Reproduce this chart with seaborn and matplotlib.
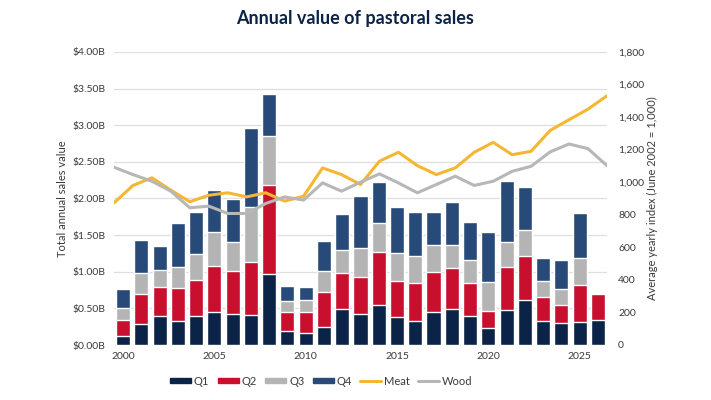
import pandas as pd
import seaborn as sns
import matplotlib.pyplot as plt
import matplotlib.ticker as ticker
from matplotlib.patches import Patch
from matplotlib.lines import Line2D

# --- data ($B per quarter, index values) ---
years = list(range(2000, 2027))
q1 = [0.12, 0.28, 0.39, 0.33, 0.40, 0.45, 0.42, 0.41, 0.97, 0.19, 0.17, 0.24, 0.49, 0.42,
      0.54, 0.38, 0.33, 0.45, 0.49, 0.40, 0.23, 0.48, 0.61, 0.33, 0.30, 0.32, 0.34]
q2 = [0.22, 0.41, 0.40, 0.45, 0.49, 0.63, 0.59, 0.72, 1.21, 0.26, 0.28, 0.49, 0.49, 0.51,
      0.73, 0.49, 0.52, 0.55, 0.56, 0.45, 0.24, 0.59, 0.60, 0.32, 0.25, 0.50, 0.36]
q3 = [0.17, 0.29, 0.23, 0.28, 0.35, 0.46, 0.40, 0.76, 0.68, 0.15, 0.16, 0.28, 0.32, 0.39,
      0.40, 0.39, 0.37, 0.36, 0.32, 0.31, 0.39, 0.33, 0.36, 0.22, 0.21, 0.37, 0.00]
q4 = [0.25, 0.45, 0.33, 0.60, 0.57, 0.58, 0.58, 1.07, 0.57, 0.20, 0.18, 0.41, 0.49, 0.72,
      0.55, 0.63, 0.59, 0.46, 0.58, 0.52, 0.68, 0.84, 0.59, 0.32, 0.40, 0.61, 0.00]
meat = [873, 980, 1027, 951, 880, 920, 935, 910, 935, 884, 914, 1088, 1047, 986, 1129,
        1184, 1102, 1047, 1088, 1184, 1245, 1169, 1190, 1318, 1384, 1449, 1531]
wood = [1092, 1047, 1006, 945, 843, 853, 808, 808, 869, 910, 890, 996, 945, 1000, 1051,
        996, 935, 986, 1037, 980, 1006, 1067, 1098, 1186, 1235, 1206, 1102]
tick_years = [2000, 2005, 2010, 2015, 2020, 2025]

C_Q1, C_Q2, C_Q3, C_Q4 = '#0b2346', '#c8102e', '#b4b4b4', '#284a78'
C_MEAT, C_WOOD = '#f5b731', '#b7b7b7'
TXT = '#3a3a3a'

df = pd.DataFrame({'Year': [str(y) for y in years], 'Q1': q1, 'Q2': q2, 'Q3': q3, 'Q4': q4})
df['c1'] = df['Q1']
df['c2'] = df['c1'] + df['Q2']
df['c3'] = df['c2'] + df['Q3']
df['c4'] = df['c3'] + df['Q4']
idx = pd.DataFrame({'Year': years, 'Meat': meat, 'Wood': wood})

sns.set_theme(style='white')
plt.rcParams['font.family'] = ['Lato', 'DejaVu Sans']

fig = plt.figure(figsize=(7.11, 4.0), dpi=100)
ax = fig.add_axes([0.1603, 0.1375, 0.6934, 0.7325])

# stacked bars: draw cumulative totals from the top layer down
for col, c in (('c4', C_Q4), ('c3', C_Q3), ('c2', C_Q2), ('c1', C_Q1)):
    sns.barplot(data=df, x='Year', y=col, color=c, width=0.77, saturation=1,
                ax=ax, zorder=2)

ax.set_ylim(0, 4.0)
ax.set_xlim(-0.5, len(years) - 0.5)
ax.yaxis.set_major_locator(ticker.MultipleLocator(0.5))
ax.yaxis.set_major_formatter(ticker.FuncFormatter(lambda v, p: f'${v:.2f}B'))
ax.set_xticks([years.index(y) for y in tick_years])
ax.set_xticklabels([str(y) for y in tick_years])
ax.grid(axis='y', color='#dedede', linewidth=0.9, zorder=0)
ax.set_axisbelow(True)
for s in ax.spines.values():
    s.set_visible(False)
ax.tick_params(axis='y', length=3, color='#dedede', labelsize=7.5, labelcolor=TXT, pad=3)
ax.tick_params(axis='x', length=0, labelsize=7.5, labelcolor=TXT, pad=5)
ax.set_xlabel('')
ax.set_ylabel('Total annual sales value', fontsize=8, color=TXT, labelpad=3)

# index lines on their own overlaid axes
ax2 = fig.add_axes(ax.get_position(), frameon=False)
sns.lineplot(data=idx, x='Year', y='Meat', color=C_MEAT, linewidth=2.2, ax=ax2)
sns.lineplot(data=idx, x='Year', y='Wood', color=C_WOOD, linewidth=2.2, ax=ax2)
ax2.set_xlim(years[0], years[-1])
ax2.set_ylim(0, 1800)
ax2.yaxis.set_major_locator(ticker.MultipleLocator(200))
ax2.yaxis.set_major_formatter(ticker.StrMethodFormatter('{x:,.0f}'))
ax2.yaxis.tick_right()
ax2.yaxis.set_label_position('right')
ax2.set_xticks([])
ax2.set_xlabel('')
ax2.tick_params(axis='y', length=0, labelsize=7.5, labelcolor=TXT, pad=8)
ax2.set_ylabel('Average yearly index (June 2002 = 1,000)', fontsize=8, color=TXT, labelpad=2)

fig.suptitle('Annual value of pastoral sales', x=0.5, y=0.975, fontsize=13,
             fontweight='bold', color='#0b2346')

handles = [Patch(color=C_Q1, label='Q1'), Patch(color=C_Q2, label='Q2'),
           Patch(color=C_Q3, label='Q3'), Patch(color=C_Q4, label='Q4'),
           Line2D([], [], color=C_MEAT, linewidth=2.2, label='Meat'),
           Line2D([], [], color=C_WOOD, linewidth=2.2, label='Wood')]
fig.legend(handles=handles, loc='center', bbox_to_anchor=(0.452, 0.047), ncol=6,
           frameon=False, fontsize=8, handlelength=1.9, handleheight=0.35,
           columnspacing=0.75, handletextpad=0.25, labelcolor=TXT)

fig.savefig('out.png', dpi=100)
